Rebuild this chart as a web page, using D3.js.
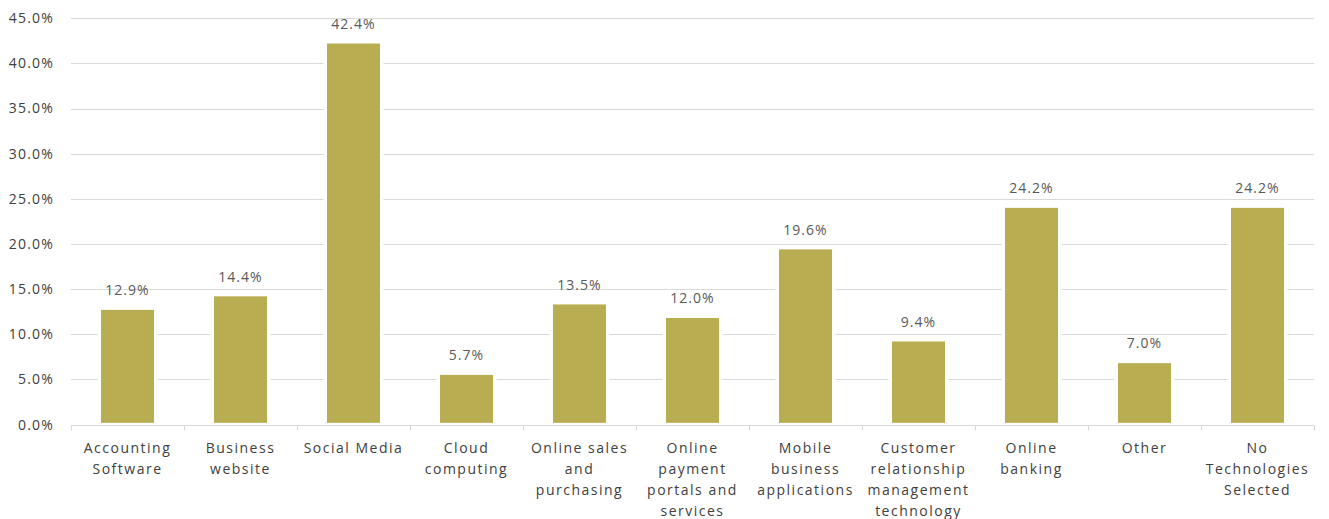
<!DOCTYPE html>
<html>
<head>
<meta charset="utf-8">
<script src="https://cdn.jsdelivr.net/npm/d3@7"></script>
<style>
  html, body { margin: 0; padding: 0; background: #fff; }
  svg { display: block; }
  text { font-family: "Open Sans", "DejaVu Sans", sans-serif; }
</style>
</head>
<body>
<svg id="chart" width="1329" height="519"></svg>
<script>
// Share of respondents using each technology
const categories = [
  "Accounting\nSoftware",
  "Business\nwebsite",
  "Social Media",
  "Cloud\ncomputing",
  "Online sales\nand\npurchasing",
  "Online\npayment\nportals and\nservices",
  "Mobile\nbusiness\napplications",
  "Customer\nrelationship\nmanagement\ntechnology",
  "Online\nbanking",
  "Other",
  "No\nTechnologies\nSelected"
];
const values = [12.9, 14.4, 42.4, 5.7, 13.5, 12.0, 19.6, 9.4, 24.2, 7.0, 24.2];
const yTicks = [0, 5, 10, 15, 20, 25, 30, 35, 40, 45];

const svg = d3.select("#chart");
const plotLeft = 71, plotRight = 1314, plotTop = 18.3, plotBottom = 424.6;

const x = d3.scaleBand().domain(categories).range([plotLeft, plotRight]).paddingInner(0.5).paddingOuter(0.25);
const y = d3.scaleLinear().domain([0, 45]).range([plotBottom, plotTop]);

// Horizontal gridlines
svg.append("g")
  .selectAll("line")
  .data(yTicks.filter(d => d > 0))
  .join("line")
  .attr("x1", plotLeft).attr("x2", plotRight)
  .attr("y1", d => Math.round(y(d)) + 0.5).attr("y2", d => Math.round(y(d)) + 0.5)
  .attr("stroke", "#d9d9d9").attr("stroke-width", 1);

// Y axis labels
svg.append("g")
  .selectAll("text")
  .data(yTicks)
  .join("text")
  .attr("x", 54)
  .attr("y", d => y(d))
  .attr("dy", "0.35em")
  .attr("text-anchor", "end")
  .attr("font-size", 14)
  .attr("letter-spacing", 1.2)
  .attr("fill", "#404040")
  .text(d => d.toFixed(1) + "%");

// Bars, with a white outline that breaks the gridlines
svg.append("g")
  .selectAll("rect")
  .data(values)
  .join("rect")
  .attr("x", (d, i) => x(categories[i]))
  .attr("width", x.bandwidth())
  .attr("y", d => y(d))
  .attr("height", d => y(0) - y(d))
  .attr("fill", "#b8ad50")
  .attr("stroke", "#ffffff")
  .attr("stroke-width", 3.5);

// Category axis line and ticks at band boundaries
const axisY = Math.round(y(0)) + 0.5;
svg.append("line")
  .attr("x1", plotLeft).attr("x2", plotRight)
  .attr("y1", axisY).attr("y2", axisY)
  .attr("stroke", "#d9d9d9").attr("stroke-width", 1.2);

const step = (plotRight - plotLeft) / categories.length;
svg.append("g")
  .selectAll("line")
  .data(d3.range(categories.length + 1))
  .join("line")
  .attr("x1", i => Math.round(plotLeft + i * step) + 0.5)
  .attr("x2", i => Math.round(plotLeft + i * step) + 0.5)
  .attr("y1", axisY).attr("y2", axisY + 5)
  .attr("stroke", "#d9d9d9").attr("stroke-width", 1.2);

// Value labels above bars
svg.append("g")
  .selectAll("text")
  .data(values)
  .join("text")
  .attr("x", (d, i) => x(categories[i]) + x.bandwidth() / 2)
  .attr("y", d => y(d) - 13)
  .attr("text-anchor", "middle")
  .attr("font-size", 14)
  .attr("letter-spacing", 1.0)
  .attr("fill", "#595959")
  .text(d => d.toFixed(1) + "%");

// Category labels, one line per tspan
const labels = svg.append("g")
  .selectAll("text")
  .data(categories)
  .join("text")
  .attr("x", d => x(d) + x.bandwidth() / 2)
  .attr("y", axisY + 27)
  .attr("text-anchor", "middle")
  .attr("font-size", 14)
  .attr("letter-spacing", 1.5)
  .attr("fill", "#404040");

labels.each(function(d) {
  const t = d3.select(this);
  d.split("\n").forEach((line, k) => {
    t.append("tspan")
      .attr("x", x(d) + x.bandwidth() / 2)
      .attr("y", axisY + 27 + k * 21)
      .text(line);
  });
});
</script>
</body>
</html>
